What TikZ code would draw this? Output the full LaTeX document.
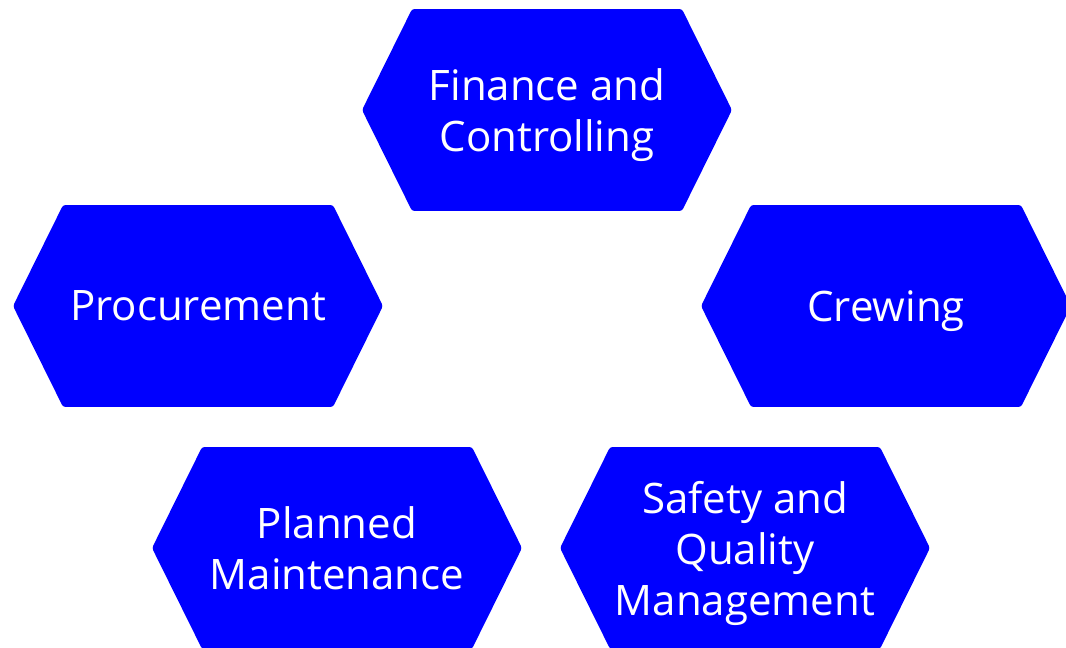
\documentclass[tikz,border=0pt]{standalone}
\usepackage{fontspec}
\setmainfont{Open Sans}
\usetikzlibrary{shapes.symbols}
\definecolor{hexblue}{HTML}{0000FF}

\begin{document}
\begin{tikzpicture}[
  x=0.02cm, y=-0.02cm,
  every node/.style={font=\fontsize{23.9}{29}\selectfont},
  hexbox/.style={signal, signal to=east and west, signal pointer angle=127.3, fill=hexblue, text=white, minimum width=7.4cm, minimum height=4.04cm, inner sep=0pt, text depth=0pt, align=center, rounded corners=1.5pt},
]
\useasboundingbox (0,0) rectangle (1066,647);

% Top
\node[hexbox] (finance) at (547,110) {Finance and\\Controlling};

% Middle row
\node[hexbox] (procurement) at (198,306) {Procurement};
\node[hexbox] (crewing) at (886,306) {Crewing};

% Bottom row
\node[hexbox] (planned) at (337,548) {Planned\\Maintenance};
\node[hexbox] (safety) at (745,548) {Safety and\\Quality\\Management};

\end{tikzpicture}
\end{document}
